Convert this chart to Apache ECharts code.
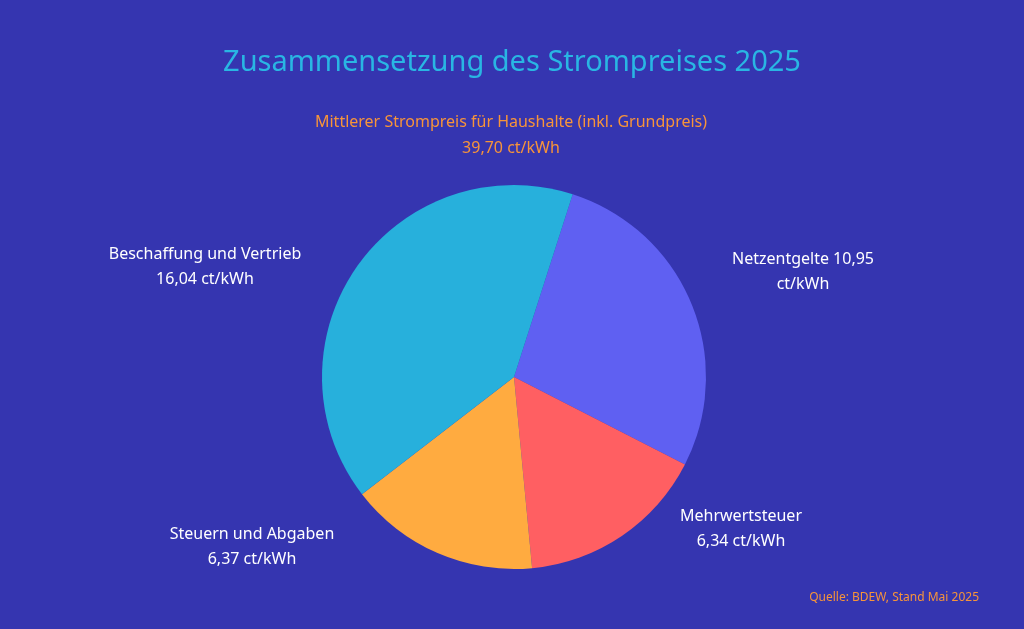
<!DOCTYPE html>
<html><head><meta charset="utf-8">
<script src="https://cdn.jsdelivr.net/npm/echarts@6/dist/echarts.min.js"></script>
<style>html,body{margin:0;padding:0;background:#3535b0}#c{width:1024px;height:629px}</style>
</head><body><div id="c"></div>
<script>
const names=['Netzentgelte 10,95\nct/kWh','Mehrwertsteuer\n6,34 ct/kWh','Steuern und Abgaben\n6,37 ct/kWh','Beschaffung und Vertrieb\n16,04 ct/kWh'];
const values=[10.95,6.34,6.37,16.04];
const colors=['#5f60f2','#ff5f62','#ffab40','#27b0dc'];
const labelPos=[[803,272],[741,529],[252,547],[205,267]];
const chart=echarts.init(document.getElementById('c'));
chart.setOption({
 backgroundColor:'#3535b0',
 title:[{text:'Zusammensetzung des Strompreises 2025',left:'center',top:43,textStyle:{color:'#29b6e3',fontSize:29,fontWeight:'normal',fontFamily:'Noto Sans'}},
 {text:'Mittlerer Strompreis für Haushalte (inkl. Grundpreis)\n39,70 ct/kWh',left:506,top:104,textAlign:'center',textStyle:{color:'#f7943a',fontSize:16,fontWeight:'normal',lineHeight:26,fontFamily:'Noto Sans',align:'center'}},
 {text:'Quelle: BDEW, Stand Mai 2025',right:40,top:587,textStyle:{color:'#f7943a',fontSize:12,fontWeight:'normal',fontFamily:'Noto Sans'}}],
 series:[{type:'pie',center:[514,377],radius:[0,192],startAngle:72.2,clockwise:true,
  data:names.map((n,i)=>({name:n,value:values[i],itemStyle:{color:colors[i]}})),
  label:{color:'#fff',fontSize:16,lineHeight:25,fontFamily:'Noto Sans',align:'center',verticalAlign:'middle'},
  labelLine:{show:false},
  labelLayout:p=>({x:labelPos[p.dataIndex][0],y:labelPos[p.dataIndex][1],align:'center',verticalAlign:'middle'}),
  emphasis:{disabled:true}}]
});
</script></body></html>
